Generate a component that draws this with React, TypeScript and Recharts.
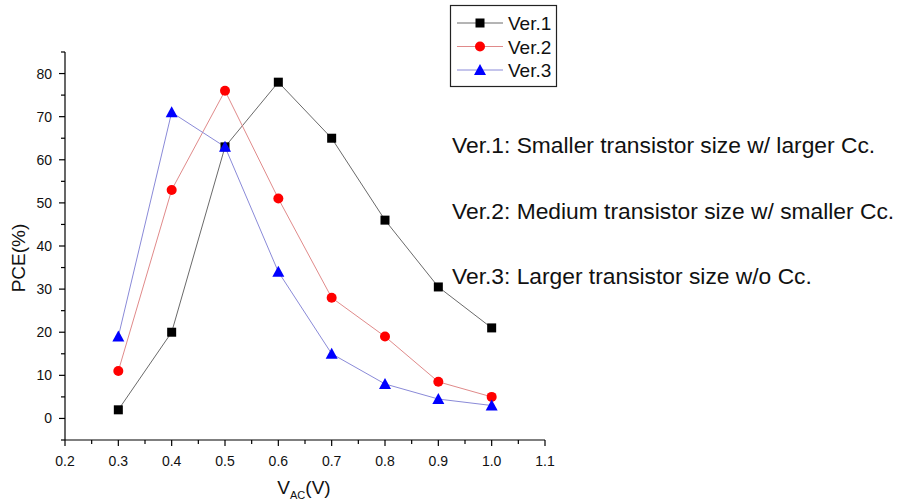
import { LineChart, Line, XAxis, YAxis } from 'recharts'

// Supply voltage V_AC (V)
const vac = [0.3, 0.4, 0.5, 0.6, 0.7, 0.8, 0.9, 1.0]
// PCE (%) per version
const ver1 = [2, 20, 63, 78, 65, 46, 30.5, 21]
const ver2 = [11, 53, 76, 51, 28, 19, 8.5, 5]
const ver3 = [19, 71, 63, 34, 15, 8, 4.5, 3]

const xTicks = [0.2, 0.25, 0.3, 0.35, 0.4, 0.45, 0.5, 0.55, 0.6, 0.65, 0.7, 0.75, 0.8, 0.85, 0.9, 0.95, 1.0, 1.05, 1.1]
const yTicks = [-5, 0, 5, 10, 15, 20, 25, 30, 35, 40, 45, 50, 55, 60, 65, 70, 75, 80, 85]

const notes = [
  'Ver.1: Smaller transistor size w/ larger Cc.',
  'Ver.2: Medium transistor size w/ smaller Cc.',
  'Ver.3: Larger transistor size w/o Cc.',
]

const series = [
  { key: 'ver1', name: 'Ver.1', line: '#6a6a6a', mark: '#000000', shape: 'square' },
  { key: 'ver2', name: 'Ver.2', line: '#e08a8a', mark: '#ff0000', shape: 'circle' },
  { key: 'ver3', name: 'Ver.3', line: '#8a8ad8', mark: '#0000ff', shape: 'triangle' },
]

const data = vac.map((v, i) => ({ v, ver1: ver1[i], ver2: ver2[i], ver3: ver3[i] }))

const FONT = '"Liberation Sans", Arial, sans-serif'

function Marker({ cx, cy, shape, fill }: any) {
  if (cx == null || cy == null) return null
  if (shape === 'square') {
    return <rect x={cx - 4.5} y={cy - 4.5} width={9} height={9} fill={fill} />
  }
  if (shape === 'circle') {
    return <circle cx={cx} cy={cy} r={5} fill={fill} />
  }
  return <polygon points={`${cx},${cy - 6} ${cx - 6},${cy + 5} ${cx + 6},${cy + 5}`} fill={fill} />
}

const isMajor = (v: number, step: number) => Math.abs(v / step - Math.round(v / step)) < 1e-6

function XTick({ x, y, payload }: any) {
  const v = payload.value
  const major = isMajor(v, 0.1)
  return (
    <g>
      <line x1={x} x2={x} y1={y} y2={y + (major ? 6 : 4)} stroke="#000" strokeWidth={1.2} />
      {major && (
        <text x={x} y={y + 25.5} textAnchor="middle" fontSize={14} fontFamily={FONT} fill="#111">
          {v.toFixed(1)}
        </text>
      )}
    </g>
  )
}

function YTick({ x, y, payload }: any) {
  const v = payload.value
  const major = isMajor(v, 10) && v >= 0 && v <= 80
  return (
    <g>
      <line x1={x} x2={x - (major ? 6 : 4)} y1={y} y2={y} stroke="#000" strokeWidth={1.2} />
      {major && (
        <text x={x - 13} y={y + 5} textAnchor="end" fontSize={14} fontFamily={FONT} fill="#111">
          {v}
        </text>
      )}
    </g>
  )
}

export default function App() {
  return (
    <div style={{ position: 'absolute', left: 0, top: 0, width: 902, height: 503, background: '#fff' }}>
      <LineChart width={902} height={503} data={data} margin={{ top: 52, right: 357, bottom: 13, left: 0 }}>
        <XAxis
          type="number"
          dataKey="v"
          domain={[0.2, 1.1]}
          ticks={xTicks}
          interval={0}
          tickSize={0}
          tickMargin={0}
          tickLine={false}
          tick={<XTick />}
          height={50}
          axisLine={{ stroke: '#000', strokeWidth: 1.2 }}
          allowDataOverflow
        />
        <YAxis
          type="number"
          domain={[-5, 85]}
          ticks={yTicks}
          interval={0}
          tickSize={0}
          tickMargin={0}
          tickLine={false}
          tick={<YTick />}
          width={65}
          axisLine={{ stroke: '#000', strokeWidth: 1.2 }}
          allowDataOverflow
        />
        {series.map((s) => (
          <Line
            key={s.key}
            dataKey={s.key}
            name={s.name}
            type="linear"
            stroke={s.line}
            strokeWidth={1}
            dot={(p: any) => <Marker key={`${s.key}-${p.index}`} cx={p.cx} cy={p.cy} shape={s.shape} fill={s.mark} />}
            activeDot={false}
            isAnimationActive={false}
          />
        ))}
      </LineChart>

      <svg width={902} height={503} style={{ position: 'absolute', left: 0, top: 0, pointerEvents: 'none' }}>
        {/* legend */}
        <rect x={450.5} y={5.5} width={106} height={81} fill="#fff" stroke="#222" strokeWidth={1.2} />
        {series.map((s, i) => {
          const cy = 23 + i * 23.5
          return (
            <g key={s.key}>
              <line x1={457} x2={503} y1={cy} y2={cy} stroke={s.line} strokeWidth={1} />
              <Marker cx={480} cy={cy} shape={s.shape} fill={s.mark} />
              <text x={508} y={cy + 7} fontSize={19} fontFamily={FONT} fill="#111">
                {s.name}
              </text>
            </g>
          )
        })}

        {/* annotations */}
        {notes.map((n, i) => (
          <text key={i} x={452} y={153 + i * 65.5} fontSize={22.8} fontFamily={FONT} fill="#111">
            {n}
          </text>
        ))}

        {/* axis titles */}
        <text
          x={0}
          y={0}
          transform="translate(25,258) rotate(-90)"
          textAnchor="middle"
          fontSize={19}
          fontFamily={FONT}
          fill="#111"
        >
          PCE(%)
        </text>
        <text x={304} y={494} textAnchor="middle" fontSize={19} fontFamily={FONT} fill="#111">
          V
          <tspan fontSize={11} dy={5}>AC</tspan>
          <tspan dy={-5}>(V)</tspan>
        </text>
      </svg>
    </div>
  )
}
